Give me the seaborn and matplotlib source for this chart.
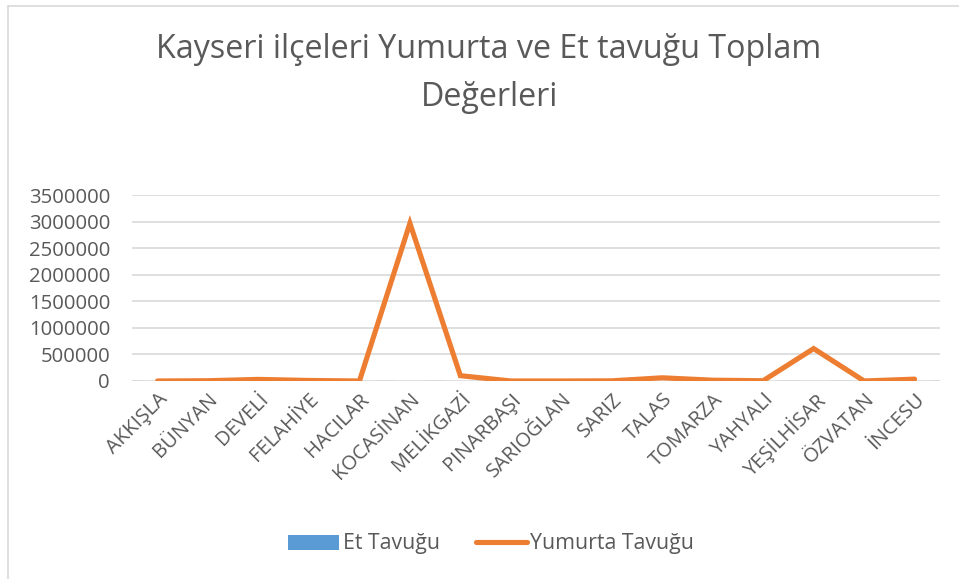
import matplotlib
matplotlib.use("Agg")
import matplotlib.pyplot as plt
import seaborn as sns
import pandas as pd
import numpy as np
from matplotlib.lines import Line2D
from matplotlib.patches import Patch

districts = ["AKKIŞLA", "BÜNYAN", "DEVELİ", "FELAHİYE", "HACILAR", "KOCASİNAN",
             "MELİKGAZİ", "PINARBAŞI", "SARIOĞLAN", "SARIZ", "TALAS", "TOMARZA",
             "YAHYALI", "YEŞİLHİSAR", "ÖZVATAN", "İNCESU"]
et_tavugu = [0, 0, 0, 0, 0, 0, 0, 0, 0, 0, 0, 0, 0, 0, 0, 0]
yumurta_tavugu = [0, 5000, 30000, 10000, 0, 2970000, 100000, 0, 0, 3000,
                  60000, 15000, 5000, 610000, 0, 35000]
yticks = [0, 500000, 1000000, 1500000, 2000000, 2500000, 3000000, 3500000]

title_lines = ["Kayseri ilçeleri Yumurta ve Et tavuğu Toplam", "Değerleri"]

sns.set_theme(style="white")
plt.rcParams['font.family'] = ['Open Sans', 'DejaVu Sans']

df = pd.DataFrame({"İlçe": districts, "Et Tavuğu": et_tavugu,
                   "Yumurta Tavuğu": yumurta_tavugu})

fig = plt.figure(figsize=(9.59, 5.79), dpi=100)
ax = fig.add_axes([0.138, 0.342, 0.842, 0.321])

blue = "#5B9BD5"
orange = "#ED7D31"
text_c = "#595959"

sns.barplot(data=df, x="İlçe", y="Et Tavuğu", color=blue, ax=ax, width=0.6)
sns.lineplot(x=np.arange(len(districts)), y=df["Yumurta Tavuğu"], color=orange,
             linewidth=3.7, ax=ax, solid_capstyle="round", solid_joinstyle="miter")

ax.set_ylim(0, 3500000)
ax.set_xlim(-0.5, len(districts) - 0.5)
ax.set_yticks(yticks)
ax.set_yticklabels([str(v) for v in yticks], fontsize=14.6, color=text_c)
ax.set_xticks(np.arange(len(districts)))
ax.set_xticklabels(districts, rotation=45, ha="right", rotation_mode="anchor",
                   fontsize=14.5, color=text_c)
ax.tick_params(axis="y", length=0, pad=16)
ax.tick_params(axis="x", length=0, pad=6)
ax.set_xlabel("")
ax.set_ylabel("")
ax.yaxis.grid(True, color="#d9d9d9", linewidth=1.2)
ax.xaxis.grid(False)
ax.set_axisbelow(True)
for s in ax.spines.values():
    s.set_visible(False)
ax.axhline(0, color="#d9d9d9", linewidth=1.2, zorder=0)

fig.text(0.51, 1 - 50 / 579, title_lines[0], ha="center", va="center",
         fontsize=23.2, color=text_c)
fig.text(0.51, 1 - 98 / 579, title_lines[1], ha="center", va="center",
         fontsize=23.2, color=text_c)

handles = [Patch(facecolor=blue, edgecolor="none"),
           Line2D([0], [0], color=orange, linewidth=3.7, solid_capstyle="round")]
fig.legend(handles, ["Et Tavuğu", "Yumurta Tavuğu"], loc="center",
           bbox_to_anchor=(0.512, 1 - 544 / 579), ncol=2, frameon=False,
           fontsize=15.3, labelcolor=text_c, handlelength=2.4,
           handletextpad=0.15, columnspacing=1.7)

# chart-area border (top and left edges visible)
fig.add_artist(Line2D([8 / 959, 1], [1 - 6 / 579, 1 - 6 / 579],
                      transform=fig.transFigure, color="#d9d9d9", linewidth=1.2))
fig.add_artist(Line2D([8 / 959, 8 / 959], [0, 1 - 6 / 579],
                      transform=fig.transFigure, color="#d9d9d9", linewidth=1.2))

fig.savefig("out.png", dpi=100, facecolor="white")
